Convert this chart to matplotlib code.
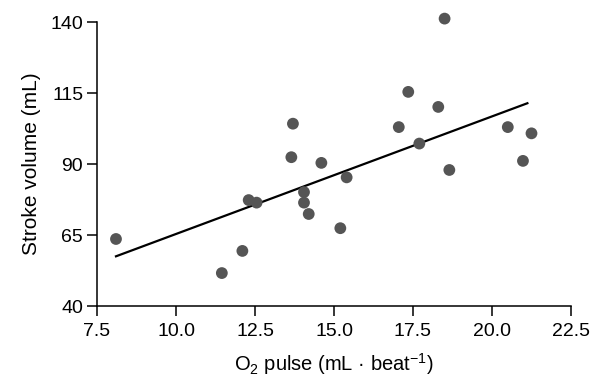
import matplotlib
matplotlib.use('Agg')
import matplotlib.pyplot as plt

plt.rcParams['font.family'] = ['Liberation Sans', 'DejaVu Sans']
plt.rcParams['mathtext.default'] = 'regular'

# O2 pulse (mL/beat) vs stroke volume (mL)
o2_pulse = [8.1, 11.45, 12.1, 12.3, 12.55, 13.7, 13.65, 14.05, 14.05, 14.2,
            14.6, 15.2, 15.4, 17.05, 17.35, 17.7, 18.3, 18.5, 18.65, 20.5,
            20.98, 21.25]
stroke_vol = [63.6, 51.6, 59.4, 77.3, 76.4, 104.2, 92.4, 80.1, 76.4, 72.4,
              90.4, 67.4, 85.3, 103.0, 115.4, 97.2, 110.1, 141.2, 87.9, 103.0,
              91.1, 100.8]

# regression line end points
fit_x = [8.1, 21.12]
fit_y = [57.5, 111.4]

xticks = [7.5, 10.0, 12.5, 15.0, 17.5, 20.0, 22.5]
yticks = [40, 65, 90, 115, 140]

fig = plt.figure(figsize=(5.92, 3.77), dpi=100)
ax = fig.add_axes([0.1639, 0.1883, 0.8006, 0.7533])

ax.plot(fit_x, fit_y, color='black', lw=1.6, zorder=2)
ax.scatter(o2_pulse, stroke_vol, s=72, color='#555555', edgecolors='none',
           zorder=3, clip_on=False)

ax.set_xlim(7.5, 22.5)
ax.set_ylim(40, 140)
ax.set_xticks(xticks)
ax.set_xticklabels([f'{t:.1f}' for t in xticks])
ax.set_yticks(yticks)

for s in ['top', 'right']:
    ax.spines[s].set_visible(False)
for s in ['left', 'bottom']:
    ax.spines[s].set_linewidth(1.1)
ax.tick_params(direction='out', length=7, width=1.1, labelsize=14)
ax.tick_params(axis='x', pad=5)
ax.tick_params(axis='y', pad=3)

ax.set_xlabel('O$_2$ pulse (mL · beat$^{-1}$)', fontsize=14.5, labelpad=8)
ax.set_ylabel('Stroke volume (mL)', fontsize=15, labelpad=7)

fig.savefig('out.png', dpi=100)
